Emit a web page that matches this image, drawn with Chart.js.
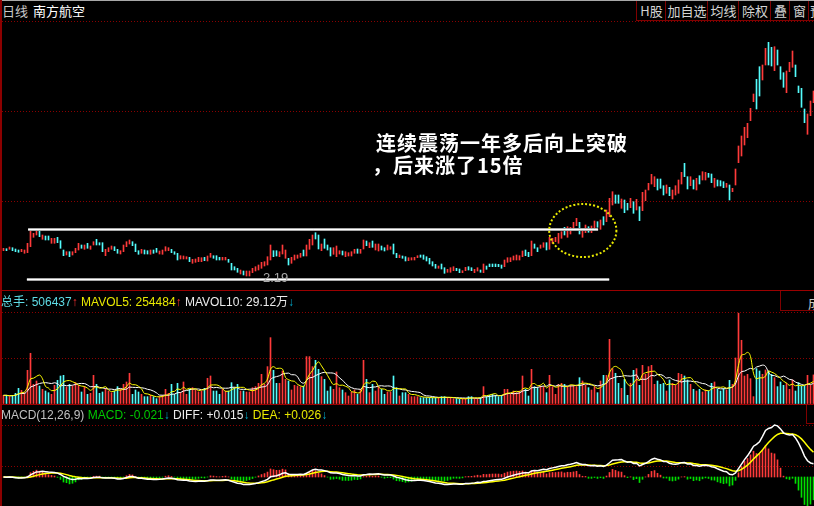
<!DOCTYPE html>
<html>
<head>
<meta charset="utf-8">
<script src="https://cdn.jsdelivr.net/npm/chart.js@4.4.0/dist/chart.umd.min.js"></script>
<style>
body { margin:0; background:#000; width:814px; height:506px; overflow:hidden; position:relative;
       font-family:"Liberation Sans", Arial, "Noto Sans CJK SC", sans-serif; }
canvas { position:absolute; left:0; }
.t { position:absolute; white-space:nowrap; font-size:12px; line-height:14px; }
.hline { position:absolute; left:0; width:814px; height:1px; background:#9a0000; }
.btn { position:absolute; top:1px; height:19px; border-left:1px solid #800000; border-bottom:1px solid #800000;
       color:#d4d4d4; font-size:13px; line-height:19px; text-align:center; font-family:"Noto Sans CJK SC", sans-serif; overflow:hidden; }
.note { position:absolute; color:#fff; font-weight:bold; font-size:20px; line-height:22px; letter-spacing:1px;
        font-family:"Noto Sans CJK SC", sans-serif; white-space:nowrap; }
</style>
</head>
<body>
<div style="position:absolute;left:0;top:0;width:814px;height:1px;background:#a8a8a8"></div>
<div style="position:absolute;left:0;top:0;width:2px;height:506px;background:#8c0000"></div>

<div class="t" style="left:2px;top:4px;color:#c8c8c8;font-size:13px;font-family:'Noto Sans CJK SC'">日线</div>
<div class="t" style="left:33px;top:4px;color:#fff;font-size:13px;font-family:'Noto Sans CJK SC'">南方航空</div>

<div class="btn" style="left:636px;width:29px">H股</div>
<div class="btn" style="left:665px;width:42px">加自选</div>
<div class="btn" style="left:707px;width:31px">均线</div>
<div class="btn" style="left:738px;width:32px">除权</div>
<div class="btn" style="left:770px;width:19px">叠</div>
<div class="btn" style="left:789px;width:19px">窗</div>
<div class="btn" style="left:808px;width:12px;text-align:left;padding-left:1px">预</div>

<canvas id="PriceChart" width="815" height="270" style="top:21px"></canvas>
<canvas id="VolumeChart" width="815" height="92" style="top:312px"></canvas>
<canvas id="MacdChart" width="815" height="86" style="top:420px"></canvas>

<div class="hline" style="top:290px"></div>
<div class="hline" style="top:404px"></div>

<div class="note" style="left:376px;top:132px">连续震荡一年多后向上突破</div>
<div class="note" style="left:372px;top:154px">，后来涨了15倍</div>
<div class="t" style="left:263px;top:271px;color:#a8a8a8;font-size:13px">2.19</div>

<div class="t" style="left:1px;top:295px">
  <span style="color:#5fdce6">总手: 506437</span><span style="color:#ff3030">↑</span>
  <span style="color:#e8e800">MAVOL5: 254484</span><span style="color:#ff3030">↑</span>
  <span style="color:#ececec">MAVOL10: 29.12万</span><span style="color:#00a8c8">↓</span>
</div>
<div style="position:absolute;left:780px;top:291px;width:40px;height:19px;border-left:1px solid #800000;border-bottom:1px solid #800000;overflow:hidden">
  <span style="position:absolute;left:27px;top:2px;color:#c8c8c8;font-size:13px;font-family:'Noto Sans CJK SC'">成</span>
</div>

<div class="t" style="left:1px;top:408px">
  <span style="color:#c0c0c0">MACD(12,26,9)</span>
  <span style="color:#00c800">MACD: -0.021</span><span style="color:#00a8c8">↓</span>
  <span style="color:#ececec">DIFF: +0.015</span><span style="color:#00a8c8">↓</span>
  <span style="color:#e8e800">DEA: +0.026</span><span style="color:#00a8c8">↓</span>
</div>
<div style="position:absolute;left:806px;top:405px;width:12px;height:18px;border-left:1px solid #800000;border-bottom:1px solid #800000"></div>

<script>
// daily bars, price in chart units (low of the range = 2.19 label)
var opens = [
4.03,4.23,4.17,4.33,4.20,4.10,3.93,3.77,3.83,4.43,
5.37,5.60,6.10,5.17,5.50,5.50,4.77,4.77,5.37,5.03,
4.10,3.60,3.93,3.60,3.83,4.10,4.60,4.17,4.77,4.17,
4.60,5.17,4.83,4.83,3.53,3.93,4.17,4.43,4.17,3.70,
3.93,4.43,4.70,4.93,4.70,4.03,3.77,4.10,4.03,3.67,
4.10,4.27,3.70,3.67,4.00,4.03,4.17,3.93,3.77,3.20,
3.20,3.20,3.37,2.77,2.87,2.93,2.93,3.37,3.00,3.37,
3.53,3.53,3.37,3.10,3.10,3.17,2.77,2.43,2.27,1.70,
2.00,1.50,1.50,1.83,2.00,2.10,2.27,2.50,2.60,3.10,
4.03,4.03,3.43,3.70,3.27,3.27,2.77,3.10,3.27,3.37,
4.10,3.50,4.17,4.60,5.83,5.60,4.03,5.20,4.60,4.33,
3.67,3.43,3.70,4.00,3.43,3.50,3.50,3.77,4.20,3.77,
4.20,5.00,4.33,5.00,4.10,4.00,4.50,4.33,4.10,4.17,
4.70,3.77,3.33,3.50,3.43,3.03,3.10,3.10,3.33,3.60,
3.60,3.43,3.27,2.93,2.67,2.27,2.70,2.33,1.87,1.87,
2.03,2.27,2.20,1.83,2.03,2.43,2.33,1.83,2.00,2.10,
1.83,2.50,2.70,2.70,2.70,2.67,2.60,2.43,2.87,2.93,
3.10,3.10,3.10,3.43,4.10,3.87,3.53,4.70,4.33,4.27,
4.37,4.83,4.17,4.77,4.93,4.77,5.27,6.37,5.37,5.70,
6.10,6.53,6.87,5.37,5.83,6.43,5.83,6.10,6.93,6.17,
7.43,6.93,7.43,8.60,9.60,9.60,8.27,9.10,8.77,8.33,
8.93,8.10,8.43,8.03,9.03,10.10,10.70,10.43,11.20,11.20,
10.53,9.77,10.37,9.20,9.60,9.77,10.70,12.77,11.43,10.53,
11.10,10.10,11.53,11.10,11.10,11.77,11.70,10.37,11.10,11.03,
10.93,10.37,10.60,9.93,10.60,12.83,13.50,14.60,15.33,17.03,
18.93,21.17,22.43,21.10,22.60,24.87,24.37,22.03,24.10,22.43,
21.83,19.83,21.93,22.37,22.60,20.50,20.27,18.20,15.67,17.53,
18.83
];
var closes = [
4.27,4.03,4.40,4.03,3.93,3.87,4.17,4.10,4.77,6.03,
5.77,6.10,5.43,5.60,5.10,5.10,5.27,5.27,4.83,4.27,
3.53,3.93,3.43,3.93,4.27,4.77,4.27,4.60,4.27,4.50,
4.93,4.60,4.60,3.93,4.17,4.33,4.50,4.03,3.77,4.03,
4.60,4.93,5.10,4.53,3.93,3.67,4.17,3.70,3.70,4.10,
3.77,3.87,4.00,4.10,4.43,4.33,3.83,3.67,3.10,3.53,
3.50,3.43,2.93,3.17,3.20,3.37,3.33,3.03,3.50,3.77,
3.27,3.10,3.10,3.37,3.37,2.87,2.10,2.10,1.87,2.10,
1.60,2.00,2.00,2.27,2.43,2.60,2.87,2.93,3.43,4.60,
3.43,3.50,3.93,4.60,4.10,2.60,3.37,3.60,3.60,3.77,
3.50,4.60,5.17,5.60,5.20,4.20,4.70,4.27,4.10,3.50,
4.33,4.50,4.03,3.60,3.93,3.83,3.93,4.17,3.77,4.17,
5.10,4.53,4.83,4.37,4.70,4.70,4.10,4.00,4.60,4.43,
3.70,3.33,3.60,3.27,3.00,3.33,3.33,3.37,3.53,3.37,
3.17,3.00,2.70,2.50,2.27,2.50,2.20,1.77,2.17,2.33,
2.43,2.03,1.83,2.03,2.37,2.10,2.03,2.17,2.33,1.87,
2.70,2.17,2.43,2.43,2.43,2.43,2.27,3.10,3.33,3.33,
3.50,3.60,3.53,4.00,3.53,3.43,5.00,4.27,3.93,4.60,
4.83,4.10,5.37,5.27,5.37,5.77,5.93,5.60,6.43,6.37,
6.87,7.27,5.70,6.03,6.60,5.87,6.50,7.00,6.37,7.10,
6.60,8.10,9.27,9.93,8.77,8.77,9.20,7.83,8.10,9.27,
7.77,9.17,7.03,9.87,10.10,10.77,11.67,11.43,10.10,10.27,
9.60,10.60,9.53,10.10,10.53,11.10,11.87,11.43,10.20,11.43,
10.20,11.27,10.70,11.93,11.87,11.37,10.83,11.27,10.50,10.50,
10.33,10.77,9.10,10.27,12.20,14.50,15.50,16.37,16.77,18.27,
19.70,18.20,19.50,22.60,24.27,22.60,22.50,24.43,22.60,21.17,
20.37,22.00,22.87,24.00,21.43,19.83,18.37,16.83,17.70,19.00,
20.00
];
// 成交量, 万手
var volumes = [
15.1,15.1,12.8,15.1,18.6,27.3,23.8,19.7,58.6,88.2,
34.2,40.0,31.3,25.5,22.6,19.7,16.8,32.5,41.2,48.7,
49.9,29.6,34.2,31.3,37.1,32.5,20.9,30.2,16.8,18.6,
49.9,34.2,18.6,20.9,26.7,22.6,19.7,22.6,30.2,25.5,
34.2,38.3,53.4,16.8,24.4,20.9,16.8,12.8,12.8,15.1,
12.8,9.3,12.8,15.1,25.5,18.6,34.2,16.8,36.0,19.7,
38.3,16.8,25.5,28.4,24.4,20.9,22.6,27.3,44.7,48.7,
22.6,22.6,16.8,25.5,22.6,22.6,37.1,28.4,34.2,22.6,
22.6,20.9,20.9,28.4,30.2,36.0,51.6,34.2,65.0,115.4,
58.6,36.0,36.0,57.4,42.9,40.0,24.4,32.5,31.3,30.2,
31.3,82.4,82.4,65.0,76.0,60.3,47.6,42.9,22.6,30.2,
25.5,55.7,28.4,24.4,19.7,13.9,20.9,24.4,16.8,25.5,
76.0,42.9,19.7,34.2,22.6,30.2,25.5,16.8,20.9,20.9,
48.7,28.4,13.9,19.7,19.7,16.8,12.8,12.8,12.8,11.0,
11.0,11.0,11.0,11.0,11.0,11.0,12.8,12.8,11.0,10.4,
9.3,9.3,8.1,9.3,9.3,12.8,12.8,9.3,9.3,11.0,
30.2,12.8,15.1,16.8,15.1,12.8,15.1,25.5,25.5,16.8,
22.6,19.7,22.6,48.7,25.5,13.9,60.3,30.2,28.4,31.3,
30.2,19.7,49.9,30.2,16.8,34.2,36.0,34.2,30.2,32.5,
32.5,30.2,45.8,40.0,32.5,28.4,24.4,30.2,19.7,40.0,
49.9,49.9,112.5,61.5,53.4,36.0,27.3,42.9,15.1,36.0,
58.6,61.5,32.5,67.3,51.6,65.0,67.3,34.2,40.0,34.2,
36.0,22.6,41.8,36.0,32.5,53.4,51.6,48.7,41.8,34.2,
25.5,22.6,25.5,20.9,24.4,22.6,36.0,38.3,25.5,22.6,
26.7,24.4,41.2,34.2,80.0,158.0,110.8,48.7,51.6,44.1,
12.8,61.5,57.4,51.6,59.2,57.4,51.6,45.8,30.2,38.3,
32.5,36.0,25.5,41.8,22.6,37.1,31.3,31.3,49.9,32.5,
50.6
];
var days = opens.map(function (_, i) { return i; });

// hand drawn marks on the price panel (value units / bar index)
var rangeLines = [{ value: 6.15, from: 8.2, to: 198.2 }, { value: 1.25, from: 7.8, to: 201.9 }];
var breakoutRing = { index: 193.1, value: 6.05, rx: 11.2, ry: 2.65 };

var RED = '#ff3a3a', CYAN = '#54fcfc', GREEN = '#00e000', YELLOW = '#ffff00', WHITE = '#ffffff';

function isUp(i) { return closes[i] >= opens[i]; }

function movingAvg(src, n) {
    return src.map(function (_, i) {
        var s = src.slice(Math.max(0, i - n + 1), i + 1);
        return s.reduce(function (a, b) { return a + b; }, 0) / s.length;
    });
}
function ema(src, n) {
    var k = 2 / (n + 1), prev = src[0];
    return src.map(function (v, i) { prev = i ? prev + k * (v - prev) : v; return prev; });
}

var ema12 = ema(closes, 12), ema26 = ema(closes, 26);
var diff = ema12.map(function (v, i) { return v - ema26[i]; });
var dea = ema(diff, 9);
var macd = diff.map(function (v, i) { return 2 * (v - dea[i]); });

function baseOptions(yScale) {
    return {
        responsive: false,
        animation: false,
        devicePixelRatio: 1,
        events: [],
        layout: { padding: { left: 2, right: 0, top: 0, bottom: 0 } },
        plugins: { legend: { display: false }, tooltip: { enabled: false } },
        scales: {
            x: { display: false },
            y: Object.assign({
                position: 'left',
                afterFit: function (s) { s.width = 0; },
                ticks: { display: false },
                grid: { color: '#8a0000', drawTicks: false, lineWidth: 1 },
                border: { display: false, dash: [1, 2] }
            }, yScale)
        }
    };
}

var marksPlugin = {
    id: 'marks',
    afterDatasetsDraw: function (chart) {
        var ctx = chart.ctx, x = chart.scales.x, y = chart.scales.y;
        ctx.save();
        rangeLines.forEach(function (l) {
            var py = Math.round(y.getPixelForValue(l.value)) + 0.5;
            var x0 = x.getPixelForValue(l.from), x1 = x.getPixelForValue(l.to);
            ctx.strokeStyle = '#a8a8a8'; ctx.lineWidth = 3;
            ctx.beginPath(); ctx.moveTo(x0, py); ctx.lineTo(x1, py); ctx.stroke();
            ctx.strokeStyle = '#ffffff'; ctx.lineWidth = 1;
            ctx.beginPath(); ctx.moveTo(x0, py); ctx.lineTo(x1, py); ctx.stroke();
        });
        var cx = x.getPixelForValue(breakoutRing.index), cy = y.getPixelForValue(breakoutRing.value);
        var rx = x.getPixelForValue(breakoutRing.index + breakoutRing.rx) - cx;
        var ry = cy - y.getPixelForValue(breakoutRing.value + breakoutRing.ry);
        ctx.strokeStyle = '#e8e800'; ctx.lineWidth = 2; ctx.setLineDash([2, 2]);
        ctx.beginPath(); ctx.ellipse(cx, cy, rx, ry, 0, 0, Math.PI * 2); ctx.stroke();
        ctx.restore();
    }
};

var priceChart = new Chart(document.getElementById('PriceChart').getContext('2d'), {
    type: 'bar',
    data: {
        labels: days,
        datasets: [{
            data: opens.map(function (o, i) { return [o, closes[i]]; }),
            backgroundColor: function (c) { return isUp(c.dataIndex) ? RED : CYAN; },
            barThickness: 1,
            borderWidth: 0
        }]
    },
    options: baseOptions({ min: 0, max: 27, ticks: { display: false, stepSize: 9 } }),
    plugins: [marksPlugin]
});

var volumeChart = new Chart(document.getElementById('VolumeChart').getContext('2d'), {
    type: 'bar',
    data: {
        labels: days,
        datasets: [
            { type: 'line', data: movingAvg(volumes, 5), borderColor: YELLOW, borderWidth: 1, pointRadius: 0, cubicInterpolationMode: 'monotone', clip: false },
            { type: 'line', data: movingAvg(volumes, 10), borderColor: WHITE, borderWidth: 1, pointRadius: 0, cubicInterpolationMode: 'monotone', clip: false },
            {
                data: volumes,
                backgroundColor: function (c) { return isUp(c.dataIndex) ? RED : CYAN; },
                barThickness: 1,
                borderWidth: 0
            }
        ]
    },
    options: baseOptions({ min: 0, max: 160, ticks: { display: false, stepSize: 80 } })
});

// MACD panel: zero line 57px below the top of the canvas, 29px above its bottom
var topDiff = Math.max.apply(null, diff);
var pxPerUnit = 52 / topDiff;
var macdChart = new Chart(document.getElementById('MacdChart').getContext('2d'), {
    type: 'bar',
    data: {
        labels: days,
        datasets: [
            { type: 'line', data: diff, borderColor: WHITE, borderWidth: 1.5, pointRadius: 0, clip: false },
            { type: 'line', data: dea, borderColor: YELLOW, borderWidth: 1.5, pointRadius: 0, clip: false },
            {
                data: macd,
                backgroundColor: function (c) { return macd[c.dataIndex] >= 0 ? RED : GREEN; },
                barThickness: 1,
                borderWidth: 0
            }
        ]
    },
    options: baseOptions({
        min: -29 / pxPerUnit,
        max: 57 / pxPerUnit,
        afterBuildTicks: function (s) { s.ticks = [{ value: 11 / pxPerUnit }, { value: 52 / pxPerUnit }]; }
    })
});
</script>
</body>
</html>
